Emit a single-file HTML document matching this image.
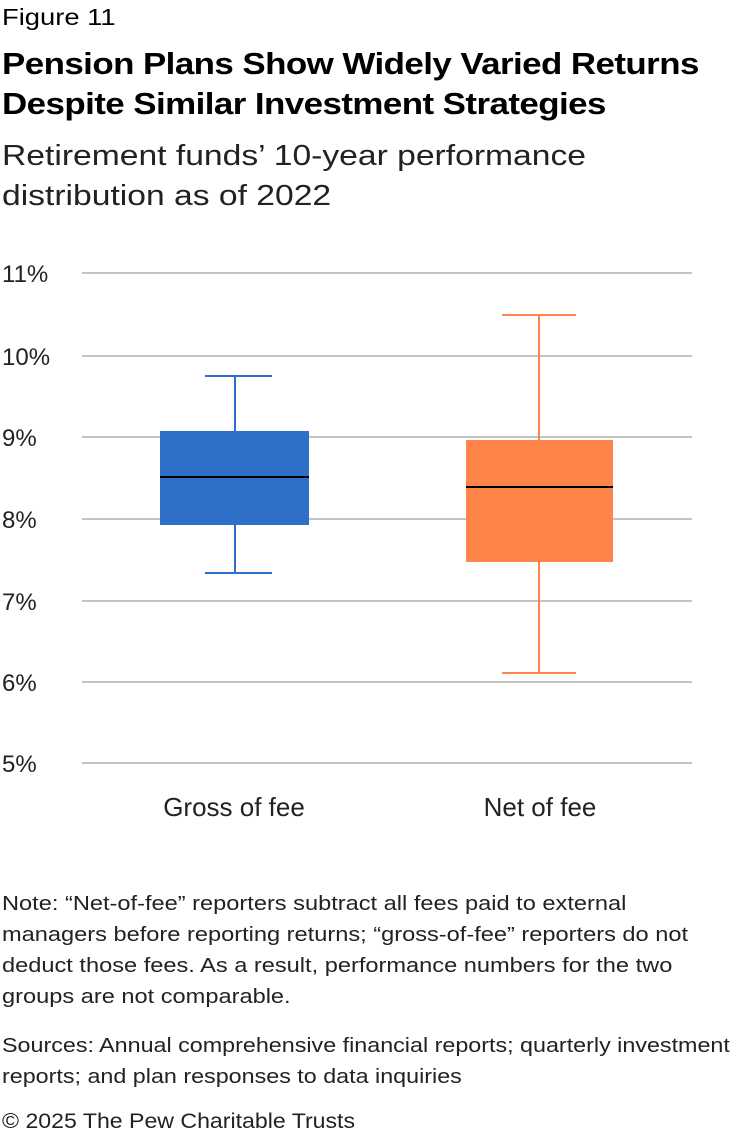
<!DOCTYPE html>
<html><head><meta charset="utf-8"><style>
body{margin:0;background:#fff;width:732px;height:1138px;overflow:hidden;font-family:"Liberation Sans",sans-serif;color:#000;position:relative}
.t{position:absolute;left:2px;white-space:nowrap;transform-origin:0 0}
</style></head><body>
<div class="t" style="top:4px;font-size:23px;transform:scaleX(1.19)">Figure 11</div>
<div class="t" style="top:44px;font-size:31px;font-weight:bold;line-height:40px;letter-spacing:-0.5px;transform:scaleX(1.126)">Pension Plans Show Widely Varied Returns<br>Despite Similar Investment Strategies</div>
<div class="t" style="top:136px;font-size:29px;line-height:40px;color:#222;transform:scaleX(1.16)">Retirement funds’ 10-year performance<br>distribution as of 2022</div>
<svg style="position:absolute;left:0;top:0" width="732" height="1138">
<g stroke="#b0b0b0" stroke-width="1.5">
<line x1="82" x2="692" y1="273" y2="273"/><line x1="82" x2="692" y1="356" y2="356"/>
<line x1="82" x2="692" y1="437" y2="437"/><line x1="82" x2="692" y1="519" y2="519"/>
<line x1="82" x2="692" y1="601" y2="601"/><line x1="82" x2="692" y1="682" y2="682"/>
<line x1="82" x2="692" y1="763" y2="763"/></g>
<g font-size="24" fill="#222" font-family="Liberation Sans">
<text x="2" y="282">11%</text><text x="2" y="365">10%</text><text x="2" y="446">9%</text>
<text x="2" y="528">8%</text><text x="2" y="610">7%</text><text x="2" y="691">6%</text><text x="2" y="772">5%</text>
<text x="234" y="816" text-anchor="middle" font-size="26">Gross of fee</text>
<text x="540" y="816" text-anchor="middle" font-size="26">Net of fee</text></g>
<g stroke="#2e6fc7" stroke-width="2"><line x1="235" x2="235" y1="376" y2="573"/><line x1="205" x2="272" y1="376" y2="376"/><line x1="205" x2="272" y1="573" y2="573"/></g>
<rect x="160" y="431" width="149" height="94" fill="#2e6fc7"/>
<line x1="160" x2="309" y1="477" y2="477" stroke="#000" stroke-width="2"/>
<g stroke="#ff8449" stroke-width="2"><line x1="539" x2="539" y1="315" y2="673"/><line x1="502" x2="576" y1="315" y2="315"/><line x1="502" x2="576" y1="673" y2="673"/></g>
<rect x="466" y="440" width="147" height="122" fill="#ff8449"/>
<line x1="466" x2="613" y1="487" y2="487" stroke="#000" stroke-width="2"/>
</svg>
<div class="t" style="top:889px;font-size:20px;line-height:31px;color:#222;transform:scaleX(1.18)">Note: “Net-of-fee” reporters subtract all fees paid to external<br>managers before reporting returns; “gross-of-fee” reporters do not<br>deduct those fees. As a result, performance numbers for the two<br>groups are not comparable.</div>
<div class="t" style="top:1031px;font-size:20px;line-height:31px;color:#222;transform:scaleX(1.165)">Sources: Annual comprehensive financial reports; quarterly investment<br>reports; and plan responses to data inquiries</div>
<div class="t" style="top:1110px;font-size:21px;color:#222;transform:scaleX(1.1)">© 2025 The Pew Charitable Trusts</div>
</body></html>
